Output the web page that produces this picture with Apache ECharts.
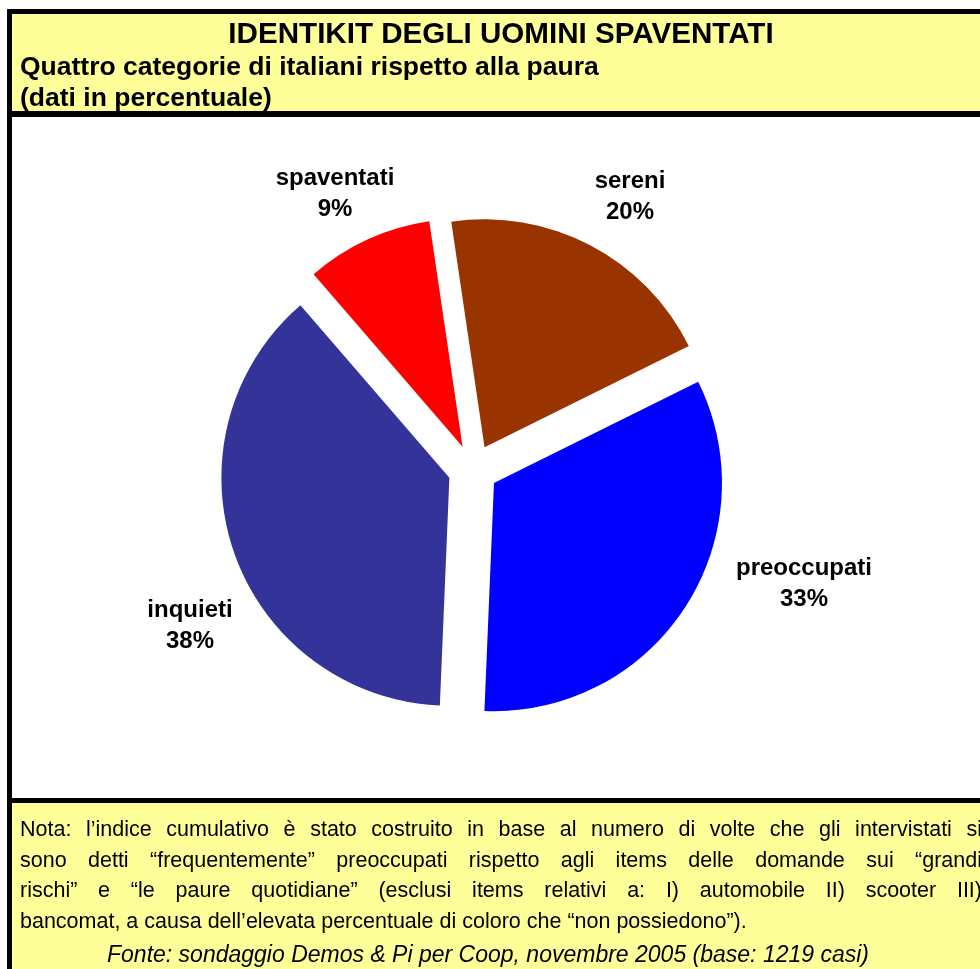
<!DOCTYPE html>
<html>
<head>
<meta charset="utf-8">
<title>Identikit degli uomini spaventati</title>
<script src="https://cdn.jsdelivr.net/npm/echarts@6/dist/echarts.min.js"></script>
<style>
  html, body { margin: 0; padding: 0; background: #fff; }
  #main { width: 980px; height: 969px; }
</style>
</head>
<body>
<div id="main"></div>
<script>
// dati del grafico
var categories = ['sereni', 'preoccupati', 'inquieti', 'spaventati'];
var values = [20, 33, 38, 9];
var colors = ['#993300', '#0000FF', '#333399', '#FF0000'];

var titleText = 'IDENTIKIT DEGLI UOMINI SPAVENTATI';
var subLines = ['Quattro categorie di italiani rispetto alla paura', '(dati in percentuale)'];
var noteLines = [
  'Nota: l\u2019indice cumulativo \u00e8 stato costruito in base al numero di volte che gli intervistati si',
  'sono detti \u201cfrequentemente\u201d preoccupati rispetto agli items delle domande sui \u201cgrandi',
  'rischi\u201d e \u201cle paure quotidiane\u201d (esclusi items relativi a: I) automobile II) scooter III)',
  'bancomat, a causa dell\u2019elevata percentuale di coloro che \u201cnon possiedono\u201d).'
];
var sourceText = 'Fonte: sondaggio Demos & Pi per Coop, novembre 2005 (base: 1219 casi)';

// posizione delle etichette (centro del blocco di testo)
var labelPos = [[630, 196.5], [804, 583.5], [190, 625.5], [335, 194]];

var FONT = '"Liberation Sans", Arial, sans-serif';
var yellow = '#FFFF99';

var myChart = echarts.init(document.getElementById('main'), null, { renderer: 'canvas' });

// misura del testo per giustificare la nota
var mctx = document.createElement('canvas').getContext('2d');
var noteFont = '21.5px "Liberation Sans", Arial, sans-serif';
function measure(t) { mctx.font = noteFont; return mctx.measureText(t).width; }

var graphics = [
  // cornice e sfondi
  { type: 'rect', z: 0, shape: { x: 7, y: 9, width: 980, height: 969 }, style: { fill: '#000' } },
  { type: 'rect', z: 0, shape: { x: 12, y: 14, width: 980, height: 97 }, style: { fill: yellow } },
  { type: 'rect', z: 0, shape: { x: 12, y: 117, width: 980, height: 681 }, style: { fill: '#fff' } },
  { type: 'rect', z: 0, shape: { x: 12, y: 803, width: 980, height: 200 }, style: { fill: yellow } },
  // intestazione
  { type: 'text', z: 100, x: 501, y: 35, style: { text: titleText, font: 'bold 29.6px ' + FONT, fill: '#000', align: 'center', verticalAlign: 'middle' } },
  { type: 'text', z: 100, x: 20, y: 68, style: { text: subLines[0], font: 'bold 26.5px ' + FONT, fill: '#000', align: 'left', verticalAlign: 'middle' } },
  { type: 'text', z: 100, x: 20, y: 99, style: { text: subLines[1], font: 'bold 26.5px ' + FONT, fill: '#000', align: 'left', verticalAlign: 'middle' } },
  // fonte
  { type: 'text', z: 100, x: 488, y: 956, style: { text: sourceText, font: 'italic 23px ' + FONT, fill: '#000', align: 'center', verticalAlign: 'middle' } }
];

// etichette delle fette, testo preso dai dati
categories.forEach(function (c, i) {
  graphics.push({
    type: 'text', z: 100, x: labelPos[i][0], y: labelPos[i][1],
    style: {
      text: c + '\n' + values[i] + '%',
      font: 'bold 24px ' + FONT, lineHeight: 31, fill: '#000',
      align: 'center', verticalAlign: 'middle'
    }
  });
});

// nota giustificata, parola per parola
var noteLeft = 20, noteRight = 982, noteTop = 830, noteStep = 30.7;
noteLines.forEach(function (line, i) {
  var y = noteTop + i * noteStep;
  var last = i === noteLines.length - 1;
  var words = line.split(' ');
  var widths = words.map(measure);
  var total = widths.reduce(function (a, b) { return a + b; }, 0);
  var gap = last ? measure(' ') : (noteRight - noteLeft - total) / (words.length - 1);
  var x = noteLeft;
  words.forEach(function (w, j) {
    graphics.push({ type: 'text', z: 100, x: x, y: y, style: { text: w, font: noteFont, fill: '#000', align: 'left', verticalAlign: 'middle' } });
    x += widths[j] + gap;
  });
});

var option = {
  animation: false,
  graphic: graphics,
  series: [{
    type: 'pie',
    z: 10,
    center: [473, 469.5],
    radius: [0, 228],
    startAngle: 98.4,
    clockwise: true,
    selectedMode: 'multiple',
    selectedOffset: 25,
    data: categories.map(function (c, i) {
      return { name: c, value: values[i], selected: true, itemStyle: { color: colors[i] } };
    }),
    itemStyle: { borderWidth: 0 },
    select: { itemStyle: { borderWidth: 0 } },
    emphasis: { disabled: true },
    label: { show: false },
    labelLine: { show: false }
  }]
};

myChart.setOption(option);
</script>
</body>
</html>
